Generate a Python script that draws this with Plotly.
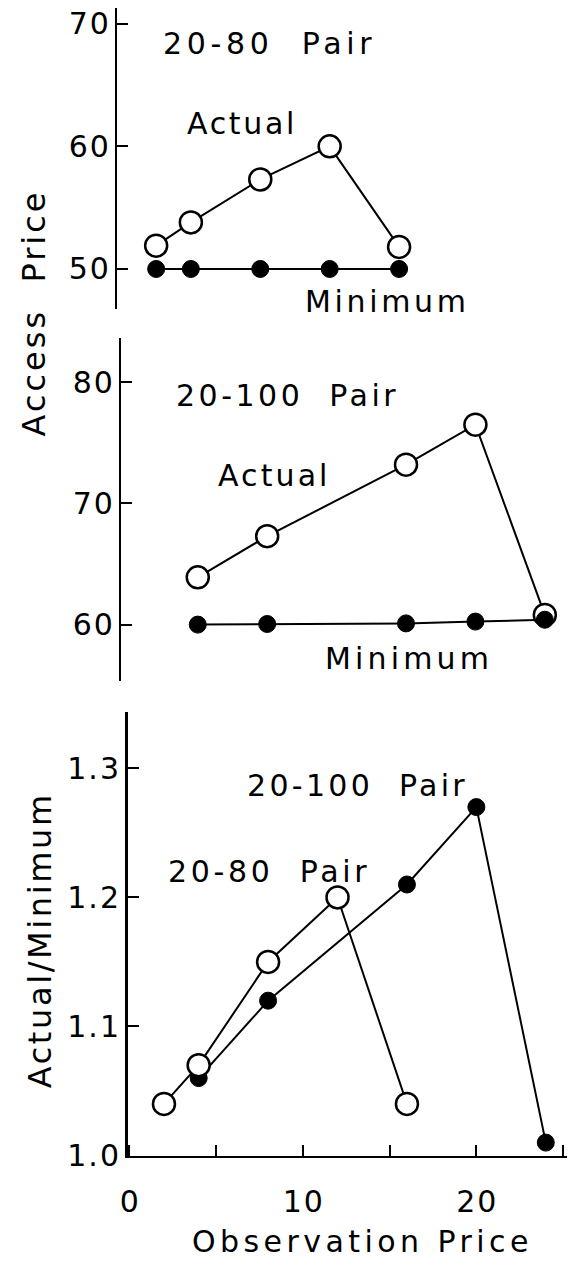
import plotly.graph_objects as go

# ---- data ----
obs_80 = [2, 4, 8, 12, 16]
actual_80 = [51.9, 53.8, 57.3, 60.0, 51.8]
minimum_80 = [50.0, 50.0, 50.0, 50.0, 50.0]
ratio_80 = [1.04, 1.07, 1.15, 1.20, 1.04]

obs_100 = [4, 8, 16, 20, 24]
actual_100 = [63.9, 67.3, 73.2, 76.5, 60.8]
minimum_100 = [60.0, 60.05, 60.1, 60.25, 60.4]
ratio_100 = [1.06, 1.12, 1.21, 1.27, 1.01]

ticks_top = [50, 60, 70]
ticks_mid = [60, 70, 80]
ticks_bot = [1.0, 1.1, 1.2, 1.3]
ticks_bot_text = ["1.0", "1.1", "1.2", "1.3"]
ticks_x = [0, 5, 10, 15, 20, 25]
ticks_x_text = ["0", "", "10", "", "20", ""]

W, H = 575, 1274
FONT = "DejaVu Sans"
FS = 30

# DejaVu Sans advance widths (em) used to spread the lettering like the reference
ADV = {"A": .684, "c": .55, "t": .392, "u": .634, "a": .613, "l": .278, "M": .863, "i": .278,
       "n": .634, "m": .974, "P": .603, "r": .411, "e": .615, "s": .521, "O": .787, "b": .635,
       "v": .592, "o": .612, "/": .337, "-": .361, " ": .318}


def adv(t):
    return sum(ADV.get(ch, .636) for ch in t)


def xd(a, b):
    return [a / W, b / W]


def yd(top, bottom):
    return [1 - bottom / H, 1 - top / H]


def sp(t, ls):
    """Letter-spaced text without trailing space after the last glyph."""
    if len(t) < 2:
        return t
    return f'<span style="letter-spacing:{ls:.2f}px">{t[:-1]}</span>{t[-1]}'


open_marker = dict(symbol="circle", size=22, color="white", line=dict(color="black", width=2.5))
fill_marker = dict(symbol="circle", size=17, color="black", line=dict(color="black", width=1))
line_style = dict(color="black", width=2)

fig = go.Figure()

# panel 1: 20-80 pair
fig.add_trace(go.Scatter(x=obs_80, y=minimum_80, mode="lines+markers", marker=fill_marker,
                         line=line_style, xaxis="x", yaxis="y", cliponaxis=False))
fig.add_trace(go.Scatter(x=obs_80, y=actual_80, mode="lines+markers", marker=open_marker,
                         line=line_style, xaxis="x", yaxis="y", cliponaxis=False))
# panel 2: 20-100 pair
fig.add_trace(go.Scatter(x=obs_100, y=actual_100, mode="lines+markers", marker=open_marker,
                         line=line_style, xaxis="x2", yaxis="y2", cliponaxis=False))
fig.add_trace(go.Scatter(x=obs_100, y=minimum_100, mode="lines+markers", marker=fill_marker,
                         line=line_style, xaxis="x2", yaxis="y2", cliponaxis=False))
# panel 3: ratios
fig.add_trace(go.Scatter(x=obs_100, y=ratio_100, mode="lines+markers", marker=fill_marker,
                         line=line_style, xaxis="x3", yaxis="y3", cliponaxis=False))
fig.add_trace(go.Scatter(x=obs_80, y=ratio_80, mode="lines+markers", marker=open_marker,
                         line=line_style, xaxis="x3", yaxis="y3", cliponaxis=False))

tickfont = dict(family=FONT, size=FS, color="black")
axis_common = dict(showline=True, linecolor="black", linewidth=2.5, ticks="inside", ticklen=11,
                   tickwidth=2, tickcolor="black", showgrid=False, zeroline=False,
                   tickfont=tickfont)
hidden_x = dict(visible=False, showgrid=False, zeroline=False)


def tt(vals):
    return [sp(str(v), 2) for v in vals]


fig.update_layout(
    width=W, height=H,
    margin=dict(l=0, r=0, t=0, b=0),
    paper_bgcolor="white", plot_bgcolor="white",
    showlegend=False,
    hovermode=False,
    xaxis=dict(domain=xd(111, 555), range=[-0.23, 25], anchor="y", **hidden_x),
    yaxis=dict(domain=yd(7, 313), range=[46.71, 71.29], anchor="x",
               tickvals=ticks_top, ticktext=tt(ticks_top), **axis_common),
    xaxis2=dict(domain=xd(115, 562), range=[-0.4, 25], anchor="y2", **hidden_x),
    yaxis2=dict(domain=yd(342, 690), range=[55.37, 83.66], anchor="x2",
                tickvals=ticks_mid, ticktext=tt(ticks_mid), **axis_common),
    xaxis3=dict(domain=xd(121.2, 566.5), range=[-0.1, 25.2], anchor="y3",
                tickvals=ticks_x, ticktext=[sp(t, 2) for t in ticks_x_text],
                ticklabelstandoff=18, **axis_common),
    yaxis3=dict(domain=yd(722, 1172), range=[1.0, 1.3435], anchor="x3",
                tickvals=ticks_bot, ticktext=[sp(t, 2) for t in ticks_bot_text], **axis_common),
)

ann = []


def txt(text, x0, x1, y, size=FS):
    """Text whose visible extent runs from x0 to x1 (pixels) centred at y."""
    n = len(text)
    ls = max(0.0, ((x1 - x0) - adv(text) * size) / (n - 1))
    ann.append(dict(text=sp(text, ls), x=(x0 + x1) / 2 / W, y=1 - y / H,
                    xref="paper", yref="paper", xanchor="center", yanchor="middle",
                    showarrow=False,
                    font=dict(family=FONT, size=size, color="black")))


def vtxt(text, xc, y0, y1, size):
    n = len(text)
    ls = max(0.0, ((y1 - y0) - adv(text) * size) / (n - 1))
    ann.append(dict(text=sp(text, ls), x=xc / W, y=1 - (y0 + y1) / 2 / H,
                    xref="paper", yref="paper", xanchor="center", yanchor="middle",
                    showarrow=False, textangle=-90,
                    font=dict(family=FONT, size=size, color="black")))


txt("20-80  Pair", 158, 368, 43)
txt("Actual", 182, 290, 124)
txt("Minimum", 302, 463, 305)
txt("20-100  Pair", 171, 392, 400)
txt("Actual", 213, 323, 482)
txt("Minimum", 323, 487, 667)
txt("20-100  Pair", 243, 462, 796)
txt("20-80  Pair", 163, 363, 884)
txt("Observation Price", 188, 525, 1259)
vtxt("Access  Price", 26, 196, 441, 32)
vtxt("Actual/Minimum", 32, 808, 1102, 32)

fig.update_layout(annotations=ann)
fig.write_html("out.html",
               config={"displayModeBar": False, "staticPlot": True},
               post_script="document.body.style.margin='0';document.body.style.overflow='hidden';")
